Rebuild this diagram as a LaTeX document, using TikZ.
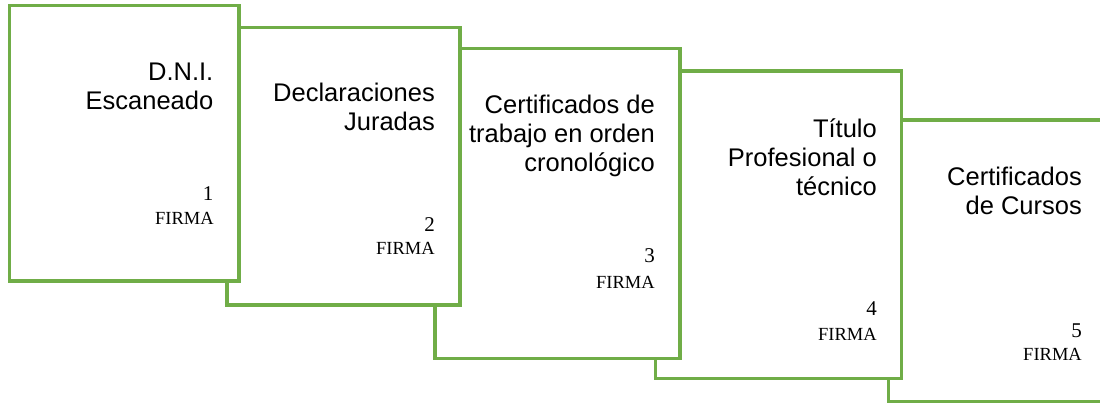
\documentclass[tikz,border=0pt]{standalone}
\usepackage{fontspec}
\setmainfont{Liberation Serif}
\newfontfamily\arialf{Liberation Sans}
\definecolor{docgreen}{HTML}{70AD47}
\tikzset{
  card/.style={draw=docgreen, line width=3.2pt, fill=white, line join=miter},
  title/.style={anchor=base east, inner sep=0pt, font=\arialf\fontsize{25.5}{29}\selectfont},
  num/.style={anchor=base east, inner sep=0pt, font=\fontsize{21}{24}\selectfont},
  firma/.style={anchor=base east, inner sep=0pt, font=\fontsize{18.5}{22}\selectfont}
}
\newcommand{\rlines}[1]{\begin{tabular}[t]{@{}r@{}}#1\end{tabular}}
\begin{document}
\begin{tikzpicture}[x=1pt,y=-1pt]
\useasboundingbox (0,0) rectangle (1100,403);
\begin{scope}
\clip (0,0) rectangle (1100,403);
\path[card] (888.3,120) rectangle (1120,401.5);
\end{scope}
\path[card] (655.7,71) rectangle (901.7,378.3);
\path[card] (435,48.3) rectangle (680,358.3);
\path[card] (227,27.7) rectangle (460,305);
\path[card] (9.2,5.7) rectangle (239,281);

\node[title] (t1) at (213.5,81) {\rlines{D.N.I.\\Escaneado}};
\node[num] (n1) at (213.5,201) {1};
\node[firma] (f1) at (214,225) {FIRMA};

\node[title] (t2) at (435,102) {\rlines{Declaraciones\\Juradas}};
\node[num] (n2) at (435,232) {2};
\node[firma] (f2) at (435,255) {FIRMA};

\node[title] (t3) at (655,114) {\rlines{Certificados de\\trabajo en orden\\cronológico}};
\node[num] (n3) at (655,263) {3};
\node[firma] (f3) at (655,288) {FIRMA};

\node[title] (t4) at (877,138) {\rlines{Título\\Profesional o\\técnico}};
\node[num] (n4) at (877,316) {4};
\node[firma] (f4) at (877,340) {FIRMA};

\node[title] (t5) at (1082,186) {\rlines{Certificados\\de Cursos}};
\node[num] (n5) at (1082,337) {5};
\node[firma] (f5) at (1082,360) {FIRMA};
\end{tikzpicture}
\end{document}
